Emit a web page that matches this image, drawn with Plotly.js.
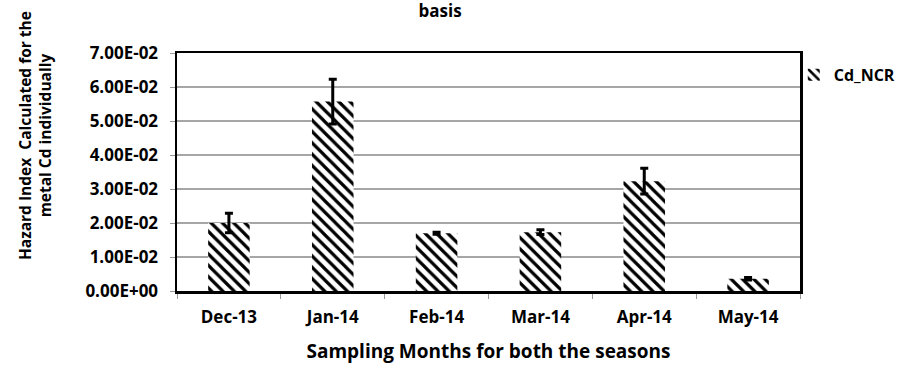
<!DOCTYPE html>
<html>
<head>
<meta charset="utf-8">
<script src="https://cdn.plot.ly/plotly-3.0.1.min.js"></script>
<style>html,body{margin:0;padding:0;background:#fff;}#chart{width:913px;height:368px;}</style>
</head>
<body>
<div id="chart"></div>
<script>
const months = ["Dec-13", "Jan-14", "Feb-14", "Mar-14", "Apr-14", "May-14"];
const cdNCR = [0.0200, 0.0557, 0.0170, 0.0173, 0.0323, 0.0036];
const cdNCRErr = [0.0029, 0.0066, 0.0003, 0.0007, 0.0038, 0.0004];
const yTickVals = [0, 0.01, 0.02, 0.03, 0.04, 0.05, 0.06, 0.07];
const yTickText = ["0.00E+00", "1.00E-02", "2.00E-02", "3.00E-02", "4.00E-02", "5.00E-02", "6.00E-02", "7.00E-02"];

const FONT = "'Open Sans', Lato, sans-serif";
const f = (size) => ({family: FONT, size: size, color: "#000000", weight: "bold"});

const trace = {
  type: "bar",
  x: months,
  y: cdNCR,
  name: "Cd_NCR",
  width: 0.4,
  marker: {
    color: "#ffffff",
    line: {width: 0},
    pattern: {shape: "\\", fgcolor: "#000000", bgcolor: "#ffffff", size: 8, solidity: 0.4}
  },
  error_y: {type: "data", array: cdNCRErr, visible: true, color: "#000000", thickness: 3, width: 4}
};

const layout = {
  width: 913,
  height: 368,
  margin: {l: 177, r: 108, t: 53, b: 77},
  paper_bgcolor: "#ffffff",
  plot_bgcolor: "#ffffff",
  font: f(14),
  bargap: 0.6,
  showlegend: true,
  legend: {x: 0.99, y: 0.98, xanchor: "left", yanchor: "top", font: f(16), itemwidth: 30, bgcolor: "rgba(0,0,0,0)"},
  title: {text: "basis", x: 0.482, xanchor: "center", y: 0.985, yref: "container", yanchor: "top", pad: {t: 0}, font: f(17)},
  xaxis: {
    type: "category",
    showline: true, linecolor: "#000000", linewidth: 2.5, mirror: true,
    ticks: "outside", ticklen: 5, tickcolor: "#999999", tickwidth: 1, tickson: "boundaries",
    tickfont: f(17), ticklabelstandoff: 9,
    title: {text: "Sampling Months for both the seasons", font: f(19), standoff: 18},
    showgrid: false, zeroline: false
  },
  yaxis: {
    range: [0, 0.07],
    tickvals: yTickVals, ticktext: yTickText,
    showline: true, linecolor: "#000000", linewidth: 2.5, mirror: true,
    ticks: "outside", ticklen: 5, tickcolor: "#999999", tickwidth: 1,
    tickfont: f(17), ticklabelstandoff: 8,
    showgrid: true, gridcolor: "#a6a6a6", gridwidth: 2,
    zeroline: false
  },
  annotations: [{
    text: "Hazard Index  Calculated for the<br>metal Cd individually",
    xref: "paper", yref: "paper",
    x: -0.228, y: 0.655, xanchor: "center", yanchor: "middle",
    textangle: -90, showarrow: false, align: "center",
    font: f(15.5)
  }]
};

Plotly.newPlot("chart", [trace], layout, {displayModeBar: false, staticPlot: true});
</script>
</body>
</html>
